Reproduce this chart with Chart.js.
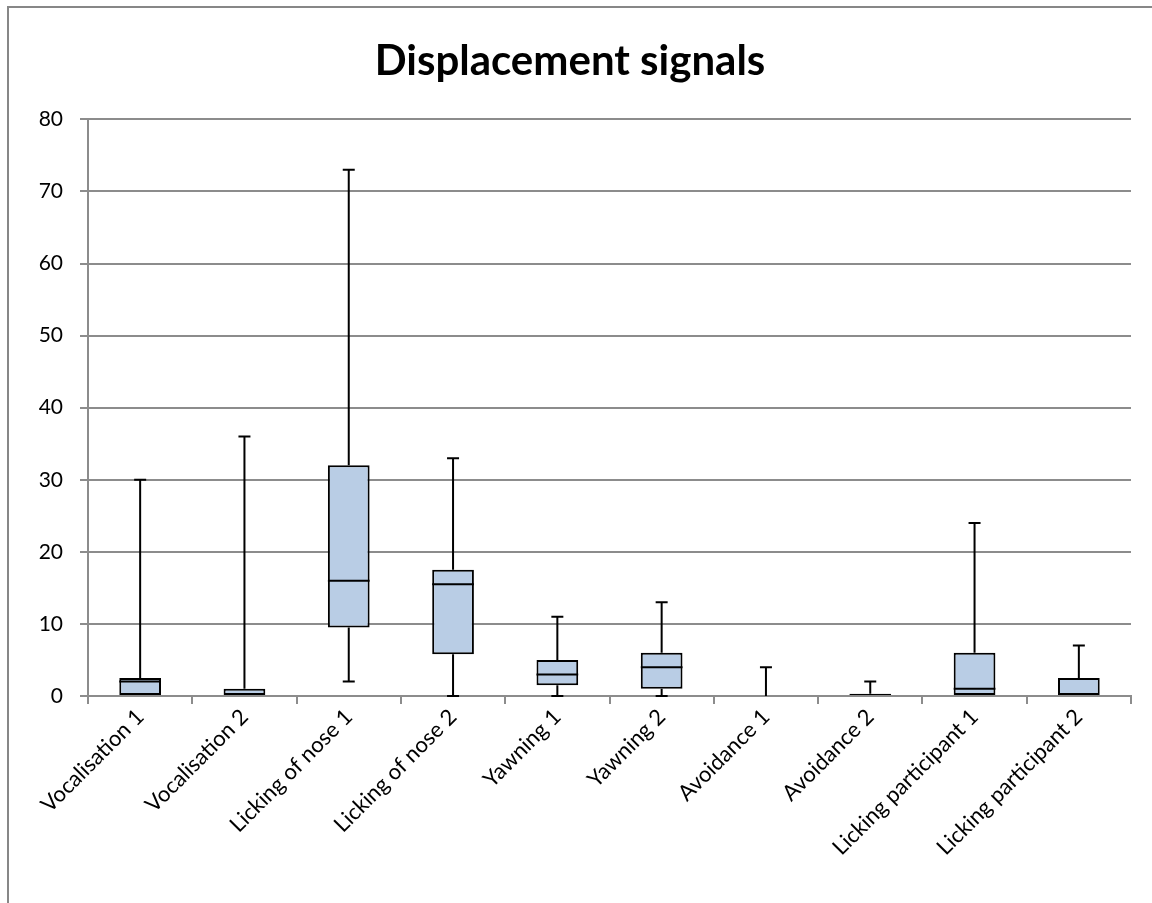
<!DOCTYPE html>
<html>
  <head>
    <meta charset="UTF-8" />
    <title>Displacement signals</title>
    <script src="https://cdn.jsdelivr.net/npm/chart.js"></script>
    <style>
      html, body {
        margin: 0;
        padding: 0;
        background: #ffffff;
        overflow: hidden;
      }
      .frame {
        position: absolute;
        left: 7px;
        top: 6px;
        width: 1300px;
        height: 960px;
        border: 2px solid #878787;
        background: #ffffff;
      }
      .frame canvas {
        position: absolute;
        left: 0;
        top: 0;
      }
    </style>
  </head>
  <body>
    <div class="frame">
      <canvas id="chart" width="1200" height="900"></canvas>
    </div>

    <script>
      // box plot values
      const categories = [
        "Vocalisation 1",
        "Vocalisation 2",
        "Licking of nose 1",
        "Licking of nose 2",
        "Yawning 1",
        "Yawning 2",
        "Avoidance 1",
        "Avoidance 2",
        "Licking participant 1",
        "Licking participant 2",
      ];
      const minVals = [0, 0, 2, 0, 0, 0, 0, 0, 0, 0];
      const q1Vals = [0, 0, 9.5, 5.8, 1.5, 1, 0, 0, 0, 0];
      const medianVals = [2, 0, 16, 15.5, 3, 4, 0, 0, 1, 0];
      const q3Vals = [2.5, 1, 32, 17.5, 5, 6, 0, 0.3, 6, 2.5];
      const maxVals = [30, 36, 73, 33, 11, 13, 4, 2, 24, 7];
      const yTicks = [0, 10, 20, 30, 40, 50, 60, 70, 80];

      const boxes = q1Vals.map((q1, i) => (q3Vals[i] > q1 ? [q1, q3Vals[i]] : null));

      const gridColor = "#8c8c8c";
      const fontFamily = "Lato, 'Liberation Sans', sans-serif";

      // whiskers, caps and median lines on top of the floating bars
      const whiskerPlugin = {
        id: "whiskers",
        afterDatasetsDraw(chart) {
          const ctx = chart.ctx;
          const xs = chart.scales.x;
          const ys = chart.scales.y;
          const meta = chart.getDatasetMeta(0);
          const cap = 12;
          ctx.save();
          ctx.strokeStyle = "#000000";
          ctx.lineWidth = 2;
          categories.forEach((c, i) => {
            const x = xs.getPixelForValue(i);
            const yMax = ys.getPixelForValue(maxVals[i]);
            const yQ3 = ys.getPixelForValue(q3Vals[i]);
            const yQ1 = ys.getPixelForValue(q1Vals[i]);
            const yMin = ys.getPixelForValue(minVals[i]);
            ctx.beginPath();
            if (maxVals[i] > q3Vals[i]) {
              ctx.moveTo(x, yQ3);
              ctx.lineTo(x, yMax);
              ctx.moveTo(x - cap / 2, yMax);
              ctx.lineTo(x + cap / 2, yMax);
            }
            if (minVals[i] < q1Vals[i]) {
              ctx.moveTo(x, yQ1);
              ctx.lineTo(x, yMin);
              ctx.moveTo(x - cap / 2, yMin);
              ctx.lineTo(x + cap / 2, yMin);
            }
            ctx.stroke();
            const bar = meta.data[i];
            const med = medianVals[i];
            if (boxes[i] && bar && med > q1Vals[i] && med < q3Vals[i]) {
              const yMed = ys.getPixelForValue(med);
              ctx.beginPath();
              ctx.moveTo(x - bar.width / 2, yMed);
              ctx.lineTo(x + bar.width / 2, yMed);
              ctx.stroke();
            }
          });
          ctx.restore();
        },
      };

      const chartCtx = document.getElementById("chart").getContext("2d");
      const chart = new Chart(chartCtx, {
        type: "bar",
        data: {
          labels: categories,
          datasets: [
            {
              label: "Box",
              data: boxes,
              backgroundColor: "#b9cde5",
              borderColor: "#000000",
              borderWidth: 2,
              borderSkipped: false,
              barPercentage: 0.4,
              categoryPercentage: 1,
            },
          ],
        },
        options: {
          responsive: false,
          animation: false,
          layout: {
            padding: { left: 0, right: 78, top: 0, bottom: 0 },
          },
          plugins: {
            legend: { display: false },
            tooltip: { enabled: false },
            title: {
              display: true,
              text: "Displacement signals",
              color: "#000000",
              font: { family: fontFamily, size: 42, weight: "bold" },
              padding: { top: 28, bottom: 33 },
            },
          },
          scales: {
            x: {
              offset: true,
              grid: {
                display: true,
                offset: true,
                drawOnChartArea: false,
                drawTicks: true,
                tickLength: 8,
                color: gridColor,
                lineWidth: 2,
              },
              border: { display: true, color: gridColor, width: 2 },
              ticks: {
                color: "#000000",
                font: { family: fontFamily, size: 22 },
                maxRotation: 45,
                minRotation: 45,
                autoSkip: false,
                padding: 0,
              },
              afterFit(scale) {
                scale.height = 212;
              },
            },
            y: {
              min: 0,
              max: 80,
              afterBuildTicks(scale) {
                scale.ticks = yTicks.map((v) => ({ value: v }));
              },
              grid: {
                color: gridColor,
                lineWidth: 2,
                tickLength: 8,
              },
              border: { display: true, color: gridColor, width: 2 },
              ticks: {
                color: "#000000",
                font: { family: fontFamily, size: 21 },
                padding: 17,
              },
              afterFit(scale) {
                scale.width = 79;
              },
            },
          },
        },
        plugins: [whiskerPlugin],
      });
    </script>
  </body>
</html>
